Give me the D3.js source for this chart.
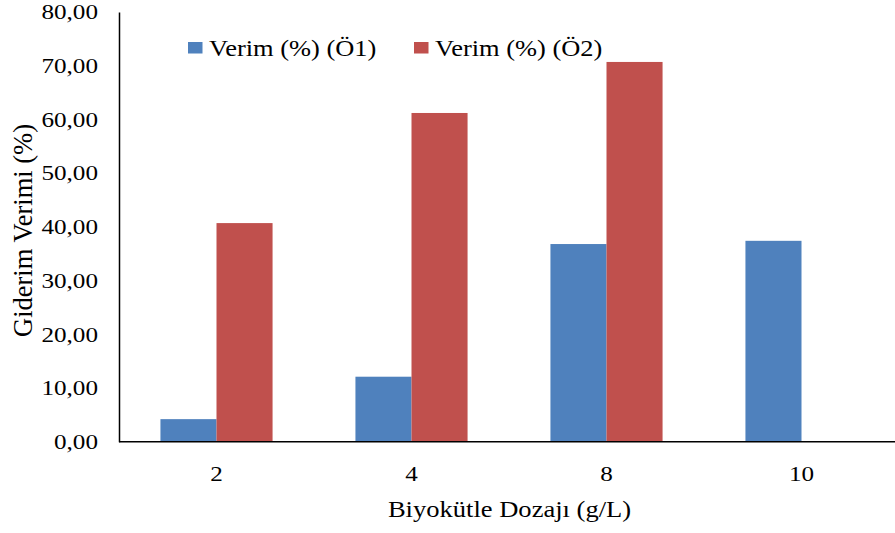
<!DOCTYPE html>
<html>
<head>
<meta charset="utf-8">
<script src="https://cdn.jsdelivr.net/npm/d3@7"></script>
<style>
  body { margin: 0; background: #fff; }
  svg { display: block; }
  svg text { font-family: "Liberation Serif", "Times New Roman", "DejaVu Serif", serif; fill: #000; }
</style>
</head>
<body>
<svg id="chart" width="895" height="533"></svg>
<script>
// Biomass dose categories (g/L)
const categories = ["2", "4", "8", "10"];
// Removal efficiency (%) for each series
const seriesNames = ["Verim (%) (Ö1)", "Verim (%) (Ö2)"];
const seriesO1 = [4.2, 12.1, 36.8, 37.4];
const seriesO2 = [40.7, 61.2, 70.7, null];
const yTicks = [0, 10, 20, 30, 40, 50, 60, 70, 80];
const colors = ["#4F81BD", "#C0504D"];

const svg = d3.select("#chart");
const plotLeft = 119, plotRight = 899, plotTop = 12, plotBottom = 441.7;
const stretchX = 1.17; // wide glyph proportions used for horizontal labels

const x = d3.scaleBand().domain(categories).range([plotLeft, plotRight])
  .paddingInner(0.425).paddingOuter(0.2125);
const xSub = d3.scaleBand().domain([0, 1]).range([0, x.bandwidth()]);
const y = d3.scaleLinear().domain([0, 80]).range([plotBottom, plotTop]);

const fmt = v => d3.format(".2f")(v).replace(".", ",");

// Bars
const seriesData = [seriesO1, seriesO2];
seriesData.forEach((vals, si) => {
  svg.append("g").selectAll("rect")
    .data(categories.map((c, i) => ({ c, v: vals[i] })).filter(d => d.v != null))
    .join("rect")
    .attr("x", d => x(d.c) + xSub(si))
    .attr("y", d => y(d.v))
    .attr("width", xSub.bandwidth())
    .attr("height", d => y(0) - y(d.v))
    .attr("fill", colors[si]);
});

// Y axis line and labels
const yAxis = d3.axisLeft(y).tickValues(yTicks).tickFormat("").tickSize(0);
const gy = svg.append("g").attr("transform", `translate(${plotLeft},0)`).call(yAxis);
gy.select(".domain").attr("stroke", "#000").attr("stroke-width", 1.5);
svg.append("g").selectAll("text").data(yTicks).join("text")
  .attr("transform", d => `translate(98,${y(d) + 7.3}) scale(${stretchX},1)`)
  .attr("text-anchor", "end").attr("font-size", 21.5)
  .text(fmt);

// X axis line and labels
const xAxis = d3.axisBottom(x).tickFormat("").tickSize(0);
const gx = svg.append("g").attr("transform", `translate(0,${plotBottom})`).call(xAxis);
gx.select(".domain").attr("d", `M${plotLeft},0H895`).attr("stroke", "#000").attr("stroke-width", 1.5);
svg.append("g").selectAll("text").data(categories).join("text")
  .attr("transform", d => `translate(${x(d) + x.bandwidth() / 2},481) scale(${stretchX},1)`)
  .attr("text-anchor", "middle").attr("font-size", 21.5)
  .text(d => d);

// Axis titles
svg.append("text")
  .attr("transform", `translate(509.5,517) scale(${stretchX},1)`)
  .attr("text-anchor", "middle").attr("font-size", 22.7)
  .text("Biyokütle Dozajı (g/L)");
svg.append("text")
  .attr("transform", "translate(32,230.5) rotate(-90)")
  .attr("text-anchor", "middle").attr("font-size", 26.5)
  .text("Giderim Verimi (%)");

// Legend
const legendX = [188, 414];
seriesNames.forEach((name, i) => {
  const g = svg.append("g").attr("transform", `translate(${legendX[i]},42)`);
  g.append("rect").attr("width", 14.5).attr("height", 11.5).attr("fill", colors[i]);
  g.append("text").attr("transform", `translate(21,14) scale(${stretchX},1)`)
    .attr("font-size", 22.6).text(name);
});
</script>
</body>
</html>
